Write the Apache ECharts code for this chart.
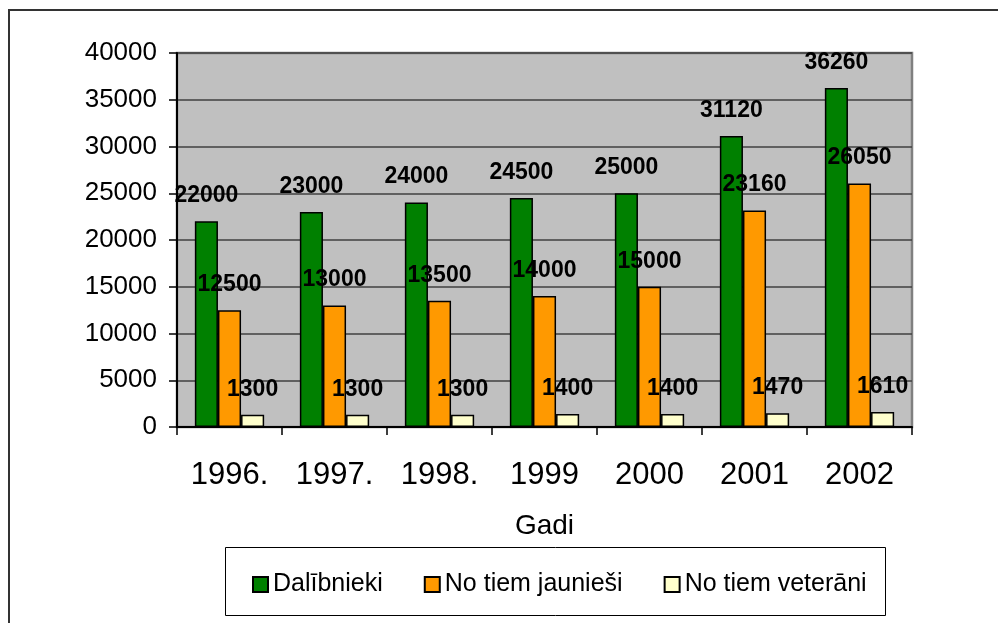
<!DOCTYPE html>
<html>
<head>
<meta charset="utf-8">
<script src="https://cdn.jsdelivr.net/npm/echarts@6/dist/echarts.min.js"></script>
<style>
  html, body { margin: 0; padding: 0; background: #fff; }
  #chart { width: 998px; height: 623px; }
</style>
</head>
<body>
<div id="chart"></div>
<script>
// Participants per year, with the young and veteran subgroups
const years = ['1996.', '1997.', '1998.', '1999', '2000', '2001', '2002'];
const seriesNames = ['Dalībnieki', 'No tiem jaunieši', 'No tiem veterāni'];
const participants = [22000, 23000, 24000, 24500, 25000, 31120, 36260];
const youth = [12500, 13000, 13500, 14000, 15000, 23160, 26050];
const veterans = [1300, 1300, 1300, 1400, 1400, 1470, 1610];
const colors = ['#008000', '#ff9900', '#ffffcc'];

const FONT = 'Arial, "Liberation Sans", sans-serif';

function makeSeries(name, data, color) {
  return {
    name: name,
    type: 'bar',
    data: data,
    barGap: 0,
    barCategoryGap: '34%',
    itemStyle: { color: color, borderColor: '#000', borderWidth: 1.5 },
    label: {
      show: true,
      position: 'top',
      distance: 14,
      color: '#000',
      fontFamily: FONT,
      fontWeight: 'bold',
      fontSize: 23
    },
    emphasis: { disabled: true },
    animation: false
  };
}

const chart = echarts.init(document.getElementById('chart'), null, { renderer: 'canvas' });
chart.setOption({
  animation: false,
  backgroundColor: '#fff',
  textStyle: { fontFamily: FONT },
  graphic: [
    {
      type: 'rect',
      shape: { x: 9, y: 10, width: 1010, height: 640 },
      style: { fill: 'none', stroke: '#333', lineWidth: 2 },
      silent: true
    },
    {
      type: 'rect',
      shape: { x: 225.5, y: 547.5, width: 660, height: 68 },
      style: { fill: '#fff', stroke: '#000', lineWidth: 1 },
      silent: true,
      z: -1
    }
  ],
  legend: {
    left: 247,
    top: 567,
    itemWidth: 15,
    itemHeight: 15,
    itemGap: 41,
    icon: 'rect',
    textStyle: { fontSize: 25, color: '#000', fontFamily: FONT },
    data: seriesNames
  },
  grid: {
    left: 177,
    right: 86,
    top: 53,
    bottom: 196,
    show: true,
    backgroundColor: '#c0c0c0',
    borderColor: '#808080',
    borderWidth: 2.5,
    containLabel: false
  },
  xAxis: {
    type: 'category',
    data: years,
    name: 'Gadi',
    nameLocation: 'middle',
    nameGap: 85,
    nameTextStyle: { fontSize: 28, color: '#000', fontFamily: FONT },
    axisLine: { lineStyle: { color: '#000', width: 2 } },
    axisTick: { show: true, length: 8, lineStyle: { color: '#000', width: 1.5 } },
    axisLabel: { fontSize: 31, color: '#000', margin: 33, fontFamily: FONT }
  },
  yAxis: {
    type: 'value',
    min: 0,
    max: 40000,
    interval: 5000,
    axisLine: { show: true, lineStyle: { color: '#000', width: 2 } },
    axisTick: { show: true, length: 8, lineStyle: { color: '#000', width: 1.5 } },
    axisLabel: {
      fontSize: 26,
      color: '#000',
      margin: 20,
      fontFamily: FONT,
      formatter: function (v) { return String(v); }
    },
    splitLine: { show: true, lineStyle: { color: '#404040', width: 1.5 } }
  },
  series: [
    makeSeries(seriesNames[0], participants, colors[0]),
    makeSeries(seriesNames[1], youth, colors[1]),
    makeSeries(seriesNames[2], veterans, colors[2])
  ]
});
</script>
</body>
</html>
